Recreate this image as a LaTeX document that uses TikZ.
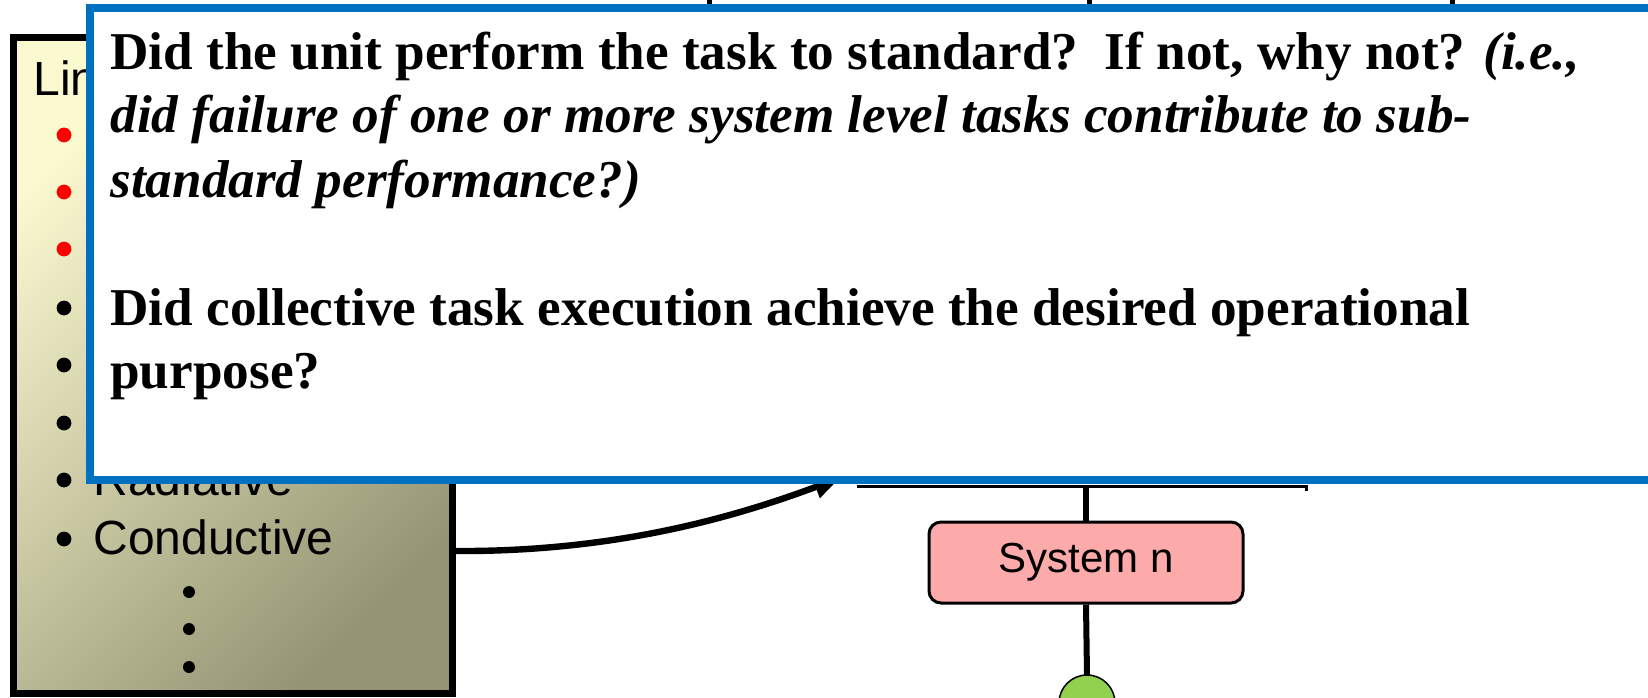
\documentclass[tikz,border=0pt]{standalone}
\usepackage{fontspec}
\setmainfont{Liberation Serif}
\setsansfont{Liberation Sans}
\usepackage{tikz}
\usetikzlibrary{arrows.meta}

\definecolor{qblue}{HTML}{0070C0}
\definecolor{listtop}{HTML}{FBF9D0}
\definecolor{listbot}{HTML}{959574}
\definecolor{syspink}{HTML}{FDAAAA}
\definecolor{nodegreen}{HTML}{92D050}

\tikzset{
  listbox/.style={draw=black, line width=3.5pt, top color=listtop, bottom color=listbot,
    shading angle=45, minimum width=219.5pt, minimum height=328pt, inner sep=0pt},
  listtext/.style={font=\sffamily\fontsize{24pt}{28pt}\selectfont, anchor=base west, inner sep=0pt},
  qbox/.style={draw=qblue, line width=4pt, fill=white, minimum width=805pt,
    minimum height=236pt, inner sep=0pt},
  qtext/.style={font=\fontsize{26.6pt}{32pt}\selectfont\bfseries, anchor=base west, inner sep=0pt},
  sysbox/.style={draw=black, line width=1.5pt, fill=syspink, rounded corners=6pt,
    minimum width=157pt, minimum height=40.5pt, font=\sffamily\fontsize{21pt}{25pt}\selectfont},
  wire/.style={black, line width=3pt},
}

\begin{document}
\begin{tikzpicture}[x=0.5pt,y=-0.5pt]
\useasboundingbox (0,0) rectangle (1648,697);

% list of links (left)
\node[listbox] (list) at (232.5,365) {};
\node[listtext] (lin) at (33,95) {Lin};
\foreach \y in {135,192,249}
  \fill[red] (64,\y) circle (3.7pt);
\foreach \y in {308,365,423,480,539}
  \fill[black] (64,\y) circle (3.7pt);
\node[listtext] (radiative) at (93,495) {Radiative};
\node[listtext] (conductive) at (93,554) {Conductive};
\foreach \y in {592,629,667}
  \fill[black] (189,\y) circle (3pt);

% system n branch
\coordinate (busL) at (857,486);
\coordinate (busR) at (1306,486);
\draw[black, line width=1.5pt] (busL) -- (busR) -- ++(0,5);
\node[sysbox] (sysn) at (1086,562.5) {System n};
\draw[wire] (sysn.north) -- (sysn.north |- busL);
\draw[draw=black, line width=0.75pt, fill=nodegreen] (1087,703) circle (14pt);
\coordinate (green) at (1087,675);
\draw[wire] (sysn.south) -- (green);

% arrow into the question box
\coordinate (arrowend) at (840,478);
\draw[line width=3.2pt, -{Triangle[length=13pt,width=11pt]}]
  ([yshift=-93pt]list.east) .. controls (620,552) and (740,515) .. (arrowend);

% stubs from above
\foreach \x in {709,1089,1452}
  \draw[black, line width=2.5pt] (\x,-5) -- (\x,10);

% question box
\node[qbox] (question) at (895,244) {};
\node[qtext] (q1) at (110,69) {Did the unit perform the task to standard?\ \ If not, why not? \textit{(i.e.,}};
\node[qtext] (q2) at (110,132) {\textit{did failure of one or more system level tasks contribute to sub-}};
\node[qtext] (q3) at (110,197) {\textit{standard performance?)}};
\node[qtext] (q4) at (110,325) {Did collective task execution achieve the desired operational};
\node[qtext] (q5) at (110,388) {purpose?};
\end{tikzpicture}
\end{document}
